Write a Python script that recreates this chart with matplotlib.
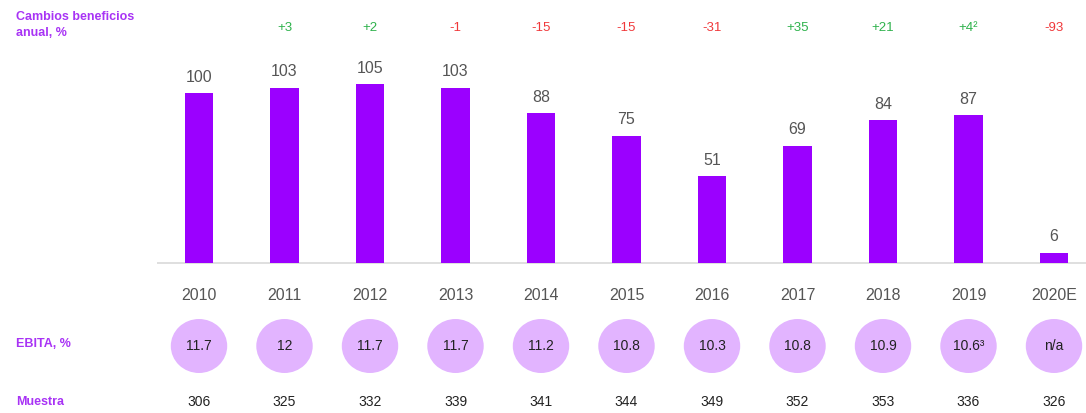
import matplotlib
matplotlib.use("Agg")
import matplotlib.pyplot as plt
from matplotlib.patches import Ellipse

plt.rcParams['font.family'] = ['Liberation Sans', 'DejaVu Sans']

years = ["2010", "2011", "2012", "2013", "2014", "2015", "2016", "2017", "2018", "2019", "2020E"]
profits = [100, 103, 105, 103, 88, 75, 51, 69, 84, 87, 6]
changes = ["", "+3", "+2", "-1", "-15", "-15", "-31", "+35", "+21", "+4²", "-93"]
ebita = ["11.7", "12", "11.7", "11.7", "11.2", "10.8", "10.3", "10.8", "10.9", "10.6³", "n/a"]
sample = ["306", "325", "332", "339", "341", "344", "349", "352", "353", "336", "326"]

purple = "#9B00FF"
label_purple = "#A833F5"
light = "#E2B4FF"
green = "#2EB24C"
red = "#F0383A"
gray = "#555555"

fig = plt.figure(figsize=(10.86, 4.13), dpi=100)
ax = fig.add_axes([157 / 1086, 0, 929 / 1086, 1])
ppu = 1.7  # pixels per value unit
ax.set_xlim(-42 / 85.5, (1086 - 199) / 85.5)
ax.set_ylim(-150 / ppu, 263 / ppu)
ax.axis("off")

x = list(range(len(years)))
ax.bar(x, profits, width=0.33, color=purple, zorder=2)
ax.axhline(0, color="#d9d9d9", lw=1.2, zorder=1)

for i in x:
    ax.text(i, profits[i] + 5, str(profits[i]), ha="center", va="bottom",
            fontsize=11.5, color=gray)
    if changes[i]:
        c = green if changes[i].startswith("+") else red
        ax.text(i, (263 - 28) / ppu, changes[i], ha="center", va="center",
                fontsize=9.5, color=c)
    ax.text(i, -32 / ppu, years[i], ha="center", va="center", fontsize=11.5, color=gray)
    ax.add_patch(Ellipse((i, -83 / ppu), 0.66, 54 / ppu, color=light, lw=0, clip_on=False))
    ax.text(i, -83 / ppu, ebita[i], ha="center", va="center", fontsize=10, color="#222222")
    ax.text(i, -139 / ppu, sample[i], ha="center", va="center", fontsize=10, color="#222222")

fig.text(16 / 1086, 1 - 25 / 413, "Cambios beneficios\nanual, %", ha="left", va="center",
         fontsize=9, fontweight="bold", color=label_purple, linespacing=1.5)
fig.text(16 / 1086, 1 - 344 / 413, "EBITA, %", ha="left", va="center",
         fontsize=9, fontweight="bold", color=label_purple)
fig.text(16 / 1086, 1 - 402 / 413, "Muestra", ha="left", va="center",
         fontsize=9, fontweight="bold", color=label_purple)

fig.savefig("out.png", dpi=100)
